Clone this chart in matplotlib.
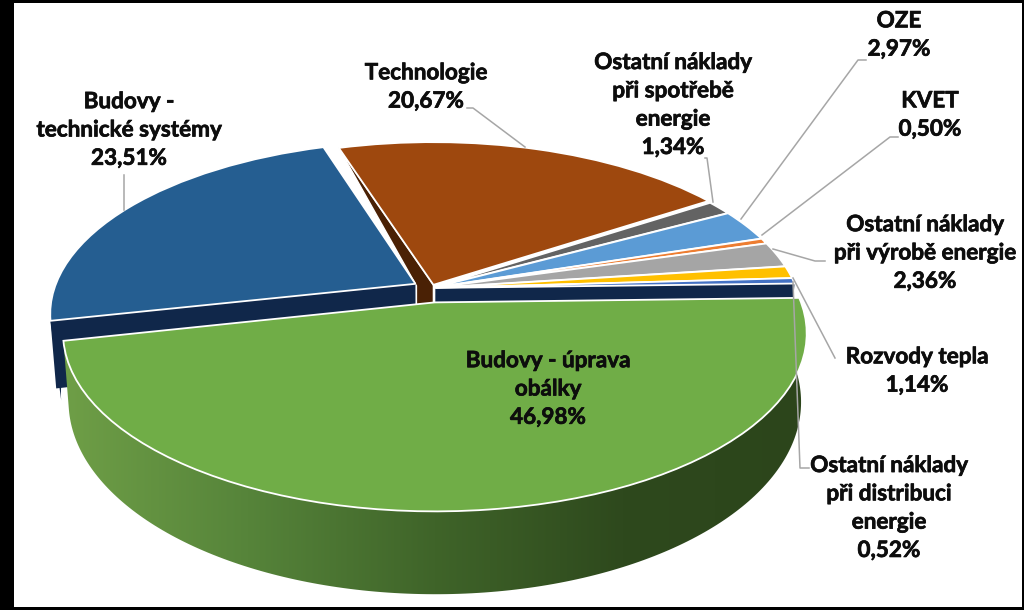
import numpy as np
import matplotlib
matplotlib.use("Agg")
import matplotlib.pyplot as plt
import matplotlib.patheffects as pe
from matplotlib.colors import LinearSegmentedColormap
from matplotlib.patches import Polygon, Rectangle
from matplotlib.transforms import Transform

# Data
names = ["Budovy - úprava\nobálky", "Budovy -\ntechnické systémy", "Technologie",
         "Ostatní náklady\npři spotřebě\nenergie", "OZE", "KVET",
         "Ostatní náklady\npři výrobě energie", "Rozvody tepla",
         "Ostatní náklady\npři distribuci\nenergie"]
values = [46.98, 23.51, 20.67, 1.34, 2.97, 0.50, 2.36, 1.14, 0.52]
colors = ["#70AD47", "#255E91", "#9E480E", "#636363", "#5B9BD5",
          "#ED7D31", "#A5A5A5", "#FFC000", "#4472C4"]

# Label centres and leader lines, in pixels of the picture
label_pos = [(548, 389), (129, 130), (426, 87), (673, 105), (899, 35),
             (930, 115), (925, 253), (917, 371), (889, 508)]
leaders = [None,
           [(124, 175), (124, 210)],
           [(467, 108), (473, 108), (525, 147)],
           [(705, 158), (707, 158), (713, 202)],
           [(866, 60), (858, 60), (741, 219)],
           [(898, 137), (890, 137), (762, 235)],
           [(825, 261), (815, 261), (773, 249)],
           [(835, 358), (793, 278)],
           [(809, 468), (800, 468), (793, 282)]]

# Look of the tilted disc
CX, CY = 431, 288
A, B, K = 361, 168, 0.17
SX, SY, DEPTH = 0.985, 1.08, 65
START = 1.5
explode = [0.085, 0.05, 0.02, 0.012, 0.012, 0.012, 0.012, 0.012, 0.012]


class Perspective(Transform):
    input_dims = output_dims = 2
    is_separable = False

    def transform_non_affine(self, xy):
        xy = np.asarray(xy, dtype=float)
        w = 1 + K * xy[:, 1]
        return np.column_stack([CX + A * xy[:, 0] / w, CY - B * xy[:, 1] / w])


persp = Perspective()


def lower(pts):
    # same outline moved down to the underside of the pie
    return np.column_stack([CX + SX * (pts[:, 0] - CX), CY + DEPTH + SY * (pts[:, 1] - CY)])


def rim(wedge, t1, t2):
    t = np.radians(np.linspace(t1, t2, 200))
    xy = np.column_stack([wedge.center[0] + wedge.r * np.cos(t), wedge.center[1] + wedge.r * np.sin(t)])
    return persp.transform_non_affine(xy)


def cut_face(wedge, t):
    # apex and rim point of a straight edge of the slice
    apex = persp.transform_non_affine(np.array([wedge.center]))[0]
    return np.array([apex, rim(wedge, t, t)[0]])


fig = plt.figure(figsize=(10.24, 6.10), dpi=100, facecolor="white")
ax = fig.add_axes([14 / 1024, 3 / 610, (1022 - 14) / 1024, (607 - 3) / 610])

wedges, _ = ax.pie(values, colors=colors, startangle=START, counterclock=False, explode=explode,
                   wedgeprops=dict(edgecolor="white", linewidth=1.3, zorder=5))
ax.set_aspect("auto")
ax.set_xticks([])
ax.set_yticks([])

for w in wedges:
    w.set_transform(persp + ax.transData)

green, blue, brown = wedges[0], wedges[1], wedges[2]
last = wedges[-1]
navy, dark_brown = "#10274A", "#4A2105"

# Brown cut face, it fills the gap next to the blue slice
apex, rim_pt = cut_face(brown, brown.theta2)
blue_apex = cut_face(blue, blue.theta2)[0]
ax.add_patch(Polygon([rim_pt, apex, apex + (0, 21), blue_apex + (1, 21), blue_apex + (1, 2)],
                     closed=True, fc=dark_brown, ec="white", lw=1, zorder=1))

# Cut face of the small slices
quad = cut_face(last, last.theta1)
ax.add_patch(Polygon(np.vstack([quad, lower(quad)[::-1]]), closed=True, fc=navy, ec="none", zorder=2))

# Blue cut face and a piece of its outer wall
quad = cut_face(blue, blue.theta2)
ax.add_patch(Polygon(np.vstack([quad, lower(quad)[::-1]]), closed=True, fc=navy, ec="none", zorder=2))
out = rim(blue, blue.theta2, blue.theta2 - 12)
ax.add_patch(Polygon(np.vstack([out, (lower(out) + (5, 12))[::-1]]), closed=True, fc=navy, ec="none", zorder=2))

# Green outer wall with its shading
top = rim(green, green.theta1, green.theta2)
wall = Polygon(np.vstack([top, lower(top)[::-1]]), closed=True, transform=ax.transData)
shade = LinearSegmentedColormap.from_list("wall", ["#6F9F47", "#56843A", "#3F6429", "#2E491D", "#2C451B"])
im = ax.imshow(np.linspace(0, 1, 256)[None, :], extent=(60, 810, 610, 200), cmap=shade,
               aspect="auto", zorder=3)
im.set_clip_path(wall)
ax.set_xlim(14, 1022)
ax.set_ylim(607, 3)

# Labels and leaders
for name, val, pos, line in zip(names, values, label_pos, leaders):
    text = name + "\n" + f"{val:.2f}".replace(".", ",") + "%"
    t = ax.text(pos[0], pos[1], text, ha="center", va="center", fontsize=16.2, fontweight="bold",
                family="Lato", color="#0D0D0D", linespacing=1.43, zorder=8)
    t.set_path_effects([pe.withStroke(linewidth=0.5, foreground="#0D0D0D")])
    if line:
        xs, ys = zip(*line)
        ax.plot(xs, ys, color="#A6A6A6", lw=1.1, zorder=7)

# Black frame of the picture
for x, y, w, h in [(0, 0, 14, 610), (1022, 0, 2, 610), (0, 607, 1024, 3), (0, 0, 1024, 3)]:
    fig.add_artist(Rectangle((x / 1024, 1 - (y + h) / 610), w / 1024, h / 610, fc="black", ec="none",
                             transform=fig.transFigure))

fig.savefig("out.png", dpi=100)
